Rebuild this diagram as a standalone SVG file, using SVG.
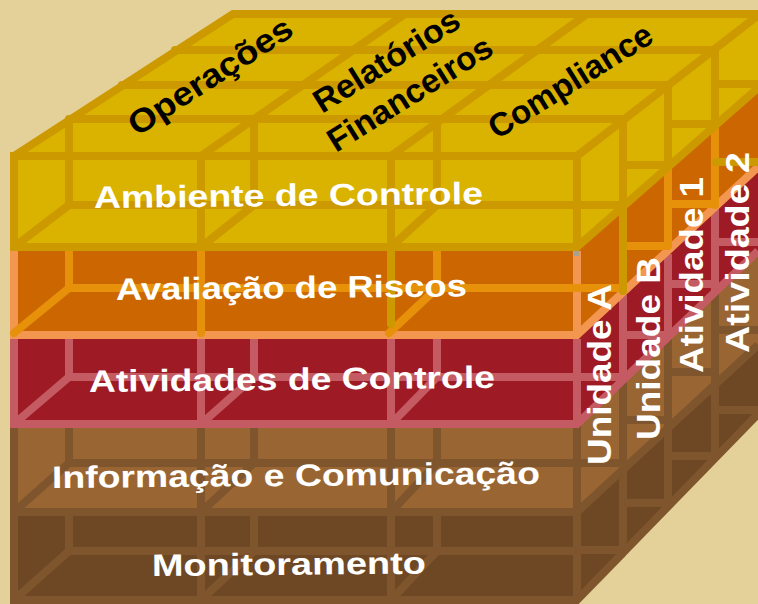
<svg xmlns="http://www.w3.org/2000/svg" width="758" height="604" viewBox="0 0 758 604">
<style>
.l{fill:none;stroke-width:8;stroke-linecap:butt;stroke-linejoin:miter;stroke-miterlimit:2}
.r{stroke-linecap:round}
.y{stroke:#CC9900}.oi{stroke:#E69109}.oe{stroke:#F3964F}.re{stroke:#C55B62}.b{stroke:#7F552D}
text{font-family:"Liberation Sans",Arial,sans-serif;font-weight:700;font-size:31px;fill:#fff}
.k{fill:#000;font-size:33px}
.v{font-size:34px}
</style>
<rect width="758" height="604" fill="#E4D199"/>
<g id="monitoramento">
<path d="M14 516H577L770 330V400L577 604H14Z" fill="#6E4824"/>
<path class="l b" d="M14 512V600H577L758 414M69 516V551M254 516V551M437 516V551M201 512V600M391 512V600M577 512V600M69 551H577V550M14 600L69 551M201 600L254 551M391 600L437 551M577 550H623M623 503H668M668 456H715M715 410H758M577 600L623 553M623 471V553M668 429V506M715 385V458"/>
</g>
<g id="informacao">
<path d="M14 424H577L770 240V333L577 514H14Z" fill="#996633"/>
<path class="l b" d="M14 424V512H577L758 345M577 424V512M201 428V512M391 428V512M69 428V463M254 428V463M437 428V463M69 463H577M14 512L69 463M201 512L254 463M391 512L437 463M577 463H623M623 420H668M668 372H715M715 330H758M623 382V471M668 338V429M715 293V385"/>
</g>
<g id="atividades">
<path d="M14 335H577L770 155V240L577 424H14Z" fill="#9E1B26"/>
<path class="l re" d="M14 339V424H577L758 251M201 339V424M391 339V424M577 339V424M69 339V377M254 339V377M437 339V377M69 377H577M14 424L69 377M201 424L254 377M391 424L437 377M577 377H623M623 335H668M668 284H715M715 242H758M623 295V382M668 254V338M715 209V293"/>
</g>
<g id="avaliacao">
<path d="M14 247H577L770 77V155L577 335H14Z" fill="#CC6600"/>
<path class="l oe" d="M14 247V335H577L758 167M577 251V335"/>
<path class="l oi" d="M69 247V288M437 247V288M69 288H623"/>
<path class="l oi r" d="M201 247V333M14 333L69 288M389 333L437 288M623 246H668M668 167V246M668 204H715M715 126V205"/>
<path class="l y r" d="M391 247V324M623 207V291M716 162H758"/>
<rect x="574" y="251" width="5" height="5" fill="#A9A18C"/>
</g>
<g id="ambiente">
<path d="M14 156L233 14H770V77L577 247H14Z" fill="#D9B300"/>
<path class="l y" d="M14 247V152M14 156L233 14H758M10 247H577L758 88M10 156H577L760 14M201 156V247M391 156V247M577 156V247M201 156L405 14M391 156L587 14M69 119V205M254 119V205M437 119V205M623 119V207M668 85V167M715 50V126M69 205H623M14 247L69 205M201 247L254 205M391 247L437 205M623 165H668M668 124H715M715 84H758"/>
<path class="l y r" d="M69 119H623M122 85H668M175 50H715"/>
</g>
<g id="labels">
<text transform="translate(94 208) rotate(-0.6)" textLength="389" lengthAdjust="spacingAndGlyphs">Ambiente de Controle</text>
<text transform="translate(116 300) rotate(-0.6)" textLength="351" lengthAdjust="spacingAndGlyphs">Avaliação de Riscos</text>
<text transform="translate(89 392) rotate(-0.6)" textLength="406" lengthAdjust="spacingAndGlyphs">Atividades de Controle</text>
<text transform="translate(52 488) rotate(-0.5)" textLength="488" lengthAdjust="spacingAndGlyphs">Informação e Comunicação</text>
<text transform="translate(152 576) rotate(-0.5)" textLength="274" lengthAdjust="spacingAndGlyphs">Monitoramento</text>
<text class="k" transform="translate(137 137) rotate(-33)" textLength="189" lengthAdjust="spacingAndGlyphs">Operações</text>
<text class="k" transform="translate(322 114) rotate(-32)" textLength="166" lengthAdjust="spacingAndGlyphs">Relatórios</text>
<text class="k" transform="translate(336 153) rotate(-32)" textLength="188" lengthAdjust="spacingAndGlyphs">Financeiros</text>
<text class="k" transform="translate(497 140) rotate(-32)" textLength="187" lengthAdjust="spacingAndGlyphs">Compliance</text>
<text class="v" transform="translate(611 465) rotate(-90)" textLength="181" lengthAdjust="spacingAndGlyphs">Unidade A</text>
<text class="v" transform="translate(660 440) rotate(-90)" textLength="183" lengthAdjust="spacingAndGlyphs">Unidade B</text>
<text class="v" transform="translate(703 373) rotate(-90)" textLength="196" lengthAdjust="spacingAndGlyphs">Atividade 1</text>
<text class="v" transform="translate(749 353) rotate(-90)" textLength="201" lengthAdjust="spacingAndGlyphs">Atividade 2</text>
</g>
</svg>
